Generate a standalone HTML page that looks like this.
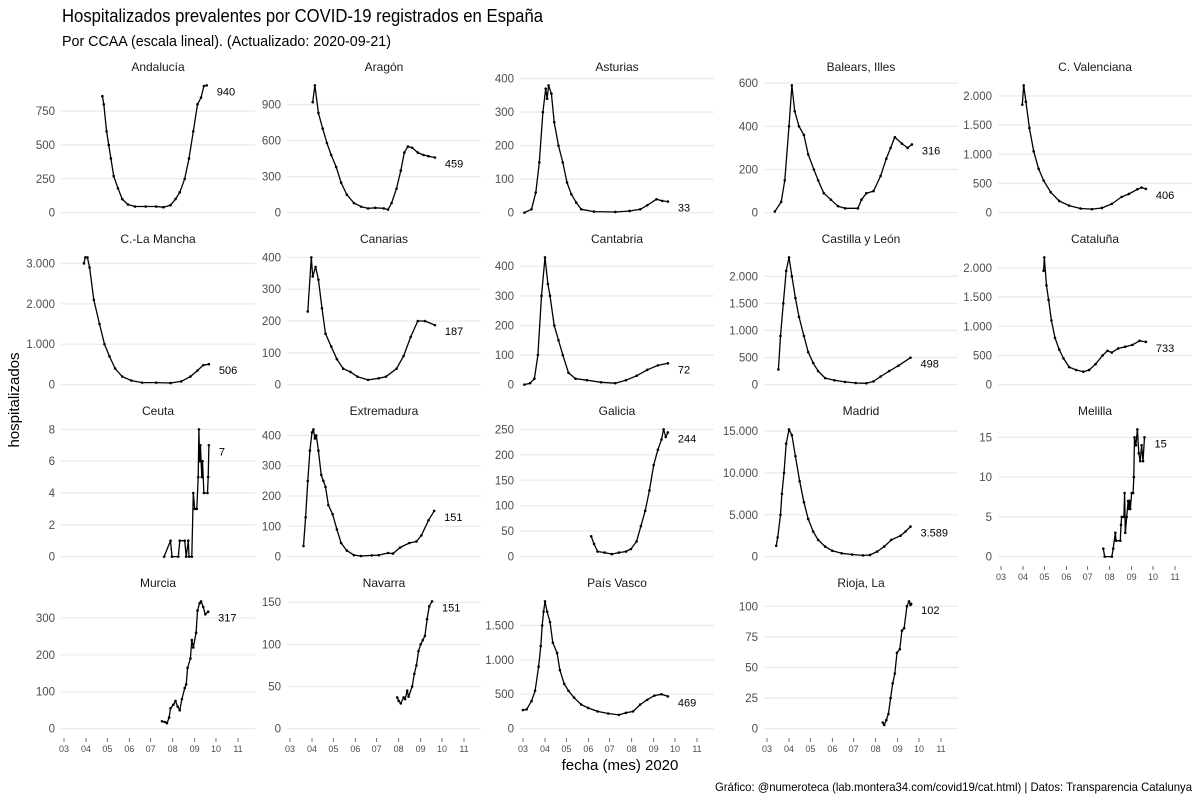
<!DOCTYPE html>
<html><head><meta charset="utf-8">
<style>
html,body{margin:0;padding:0;background:#fff;}
svg{display:block;font-family:"Liberation Sans Narrow","Liberation Sans",sans-serif;}
</style></head>
<body>
<svg id="chart" width="1200" height="800" viewBox="0 0 1200 800">
<text x="62" y="22" font-size="18" fill="#000" textLength="481" lengthAdjust="spacingAndGlyphs">Hospitalizados prevalentes por COVID-19 registrados en España</text>
<text x="62" y="46" font-size="15" fill="#000" textLength="329" lengthAdjust="spacingAndGlyphs">Por CCAA (escala lineal). (Actualizado: 2020-09-21)</text>
<text transform="translate(19,400) rotate(-90)" text-anchor="middle" font-size="15" fill="#000">hospitalizados</text>
<text x="620" y="770" text-anchor="middle" font-size="15" fill="#000">fecha (mes) 2020</text>
<text x="1192" y="791" text-anchor="end" font-size="12" fill="#000" textLength="477" lengthAdjust="spacingAndGlyphs">Gráfico: @numeroteca (lab.montera34.com/covid19/cat.html) | Datos: Transparencia Catalunya</text>
<g id="panels"></g>
</svg>
<script>
// days since 2020-03-01
const regions = ["Andalucía","Aragón","Asturias","Balears, Illes","C. Valenciana","C.-La Mancha","Canarias","Cantabria","Castilla y León","Cataluña","Ceuta","Extremadura","Galicia","Madrid","Melilla","Murcia","Navarra","País Vasco","Rioja, La"];
const dAndalucia=[54,56,60,63,66,70,76,82,90,100,115,130,140,150,157,163,170,176,182,188,193,197,201];
const vAndalucia=[860,800,600,500,400,270,180,100,60,45,45,45,40,55,100,150,250,400,600,800,850,935,940];
const dAragon=[32,35,40,46,52,58,65,72,80,90,100,110,120,132,138,143,150,156,161,166,172,180,188,195,204];
const vAragon=[920,1060,830,700,580,480,380,250,150,80,50,35,40,35,25,80,200,350,500,550,540,500,480,470,459];
const dAsturias=[2,12,18,23,28,32,34,36,40,44,50,56,62,68,75,82,100,130,150,165,175,188,196,204];
const vAsturias=[0,10,60,150,300,370,340,380,355,270,200,150,90,55,30,10,3,2,5,10,22,40,35,33];
const dBalears=[11,20,25,31,35,39,45,52,58,66,72,80,90,100,110,128,133,140,150,160,168,174,180,190,198,204];
const vBalears=[5,50,150,400,590,470,400,360,270,200,150,90,60,30,20,20,60,90,100,170,250,300,350,320,300,316];
const dValenciana=[30,32,35,40,46,53,60,70,82,96,112,128,142,156,170,180,192,198,204];
const vValenciana=[1850,2180,1900,1450,1050,750,550,350,200,120,70,60,80,150,270,320,400,430,406];
const dMancha=[28,30,33,36,42,50,57,64,72,82,95,110,130,150,165,178,188,196,204];
const vMancha=[3000,3150,3150,2900,2100,1500,1000,700,400,200,100,50,50,40,80,200,350,480,506];
const dCanarias=[25,30,32,36,40,45,50,58,66,75,85,95,110,125,135,150,160,170,180,190,204];
const vCanarias=[230,400,340,370,330,240,160,120,80,50,40,25,15,20,25,50,90,150,200,200,187];
const dCantabria=[2,10,16,21,26,31,35,38,44,50,56,64,74,90,110,130,145,160,175,190,204];
const vCantabria=[0,5,20,100,300,430,340,300,200,150,100,40,20,15,8,5,15,30,50,65,72];
const dCyL=[16,19,23,27,31,35,40,45,52,58,65,72,82,95,110,125,140,150,160,172,185,202];
const vCyL=[280,900,1500,2100,2350,2000,1600,1250,900,600,400,250,120,80,50,30,25,60,150,250,350,498];
const dCataluna=[60,61,64,67,71,76,82,88,96,106,116,124,133,143,150,156,165,175,185,195,204];
const vCataluna=[1950,2180,1700,1450,1100,800,600,450,300,250,220,250,350,500,580,550,620,650,680,750,733];
const dCeuta=[141,150,152,161,163,170,172,175,176,180,182,184,187,189,190,191,192,194,195,197,202,203,204];
const vCeuta=[0,1,0,0,1,1,0,1,0,0,4,3,3,5,8,6,7,5,6,4,4,5,7];
const dExtremadura=[19,22,25,28,31,33,35,37,40,44,47,50,54,60,66,72,80,90,100,115,125,138,145,155,168,178,185,195,203];
const vExtremadura=[35,130,250,350,410,420,390,400,350,270,250,230,170,140,90,45,20,5,2,4,5,12,10,30,45,50,70,120,151];
const dGalicia=[96,100,105,115,125,135,145,152,160,166,172,178,184,190,195,198,201,204];
const vGalicia=[40,25,10,8,5,8,10,15,30,60,90,130,180,210,230,250,235,244];
const dMadrid=[13,15,19,21,24,27,31,35,40,46,52,58,65,72,82,92,105,120,135,145,155,165,175,188,195,202];
const vMadrid=[1300,2300,5000,7500,10000,13500,15200,14500,12000,9000,6500,4500,3000,2000,1200,700,400,250,150,200,600,1200,2000,2500,3000,3589];
const dMelilla=[144,146,156,158,161,162,168,169,170,173,174,175,177,179,180,181,182,184,186,187,188,190,192,194,196,198,200,202];
const vMelilla=[1,0,0,1,3,2,2,4,5,5,8,3,5,7,6,7,6,8,8,10,15,14,16,13,12,14,12,15];
const dMurcia=[138,142,145,148,150,154,157,160,163,166,170,172,174,178,180,182,186,188,191,193,196,199,203];
const vMurcia=[20,18,15,30,55,65,75,60,50,80,110,120,165,190,240,220,260,320,340,345,330,310,317];
const dNavarra=[151,153,156,160,162,165,167,172,175,178,181,184,187,190,193,196,200];
const vNavarra=[37,33,30,37,35,45,38,50,65,75,92,100,105,110,130,145,151];
const dVasco=[0,5,12,17,22,25,27,29,31,34,38,42,48,52,58,64,72,82,92,105,120,135,145,155,165,175,185,195,204];
const vVasco=[270,280,400,550,900,1200,1500,1700,1850,1700,1550,1250,1100,850,650,550,450,350,300,250,220,200,230,250,350,420,480,500,469];
const dRioja=[163,165,168,171,174,177,180,183,187,190,193,197,200,202,203];
const vRioja=[5,3,7,12,25,37,45,62,65,80,82,100,104,101,102];
const ticksAndalucia=[0,250,500,750], ticksAragon=[0,300,600,900], ticks100x4=[0,100,200,300,400],
 ticksBalears=[0,200,400,600], ticks2000=[0,500,1000,1500,2000], ticksMancha=[0,1000,2000,3000],
 ticksCeuta=[0,2,4,6,8], ticksGalicia=[0,50,100,150,200,250], ticksMadrid=[0,5000,10000,15000],
 ticksMelilla=[0,5,10,15], ticksMurcia=[0,100,200,300], ticksNavarra=[0,50,100,150],
 ticksVasco=[0,500,1000,1500], ticksRioja=[0,25,50,75,100];
const monthLabels=["03","04","05","06","07","08","09","10","11"];
const monthDays=[0,31,61,92,122,153,184,214,245];

const series=[
 [dAndalucia,vAndalucia,ticksAndalucia],[dAragon,vAragon,ticksAragon],[dAsturias,vAsturias,ticks100x4],
 [dBalears,vBalears,ticksBalears],[dValenciana,vValenciana,ticks2000],[dMancha,vMancha,ticksMancha],
 [dCanarias,vCanarias,ticks100x4],[dCantabria,vCantabria,ticks100x4],[dCyL,vCyL,ticks2000],
 [dCataluna,vCataluna,ticks2000],[dCeuta,vCeuta,ticksCeuta],[dExtremadura,vExtremadura,ticks100x4],
 [dGalicia,vGalicia,ticksGalicia],[dMadrid,vMadrid,ticksMadrid],[dMelilla,vMelilla,ticksMelilla],
 [dMurcia,vMurcia,ticksMurcia],[dNavarra,vNavarra,ticksNavarra],[dVasco,vVasco,ticksVasco],[dRioja,vRioja,ticksRioja]];

const NS="http://www.w3.org/2000/svg";
const colX03=[64,290,523,767,1001];
const root=document.getElementById("panels");
function fmt(v){return String(v).replace(/\B(?=(\d{3})+(?!\d))/g,".");}
function mk(tag,attrs,parent){const e=document.createElementNS(NS,tag);for(const k in attrs)e.setAttribute(k,attrs[k]);parent.appendChild(e);return e;}

series.forEach((s,i)=>{
  const [days,vals,ticks]=s;
  const r=Math.floor(i/5), c=i%5;
  const x03=colX03[c], left=x03-3, width=194, top=79+172*r, h=140;
  const xs=d=>x03+d*174/245;
  const maxV=Math.max(...vals);
  const lo=-0.05*maxV, hi=1.05*maxV;
  const ys=v=>top+h-(v-lo)/(hi-lo)*h;
  const g=mk("g",{},root);
  
  
  const st=mk("text",{x:left+width/2,y:top-8,"text-anchor":"middle","font-size":12,fill:"#1a1a1a"},g);
  st.textContent=regions[i];
  
  
  ticks.forEach(t=>{
    const y=ys(t);
    const gl=mk("line",{x1:left,x2:left+width,y1:y,y2:y,stroke:"#ebebeb","stroke-width":1.3},g);
    
    
    const tl=mk("text",{x:left-6,y:y+4,"text-anchor":"end","font-size":11.5,fill:"#4d4d4d"},g);
    tl.textContent=fmt(t);
    
    
  });
  if(r===3||i===14){
    monthDays.forEach((d,k)=>{
      const x=xs(d);
      const tm=mk("line",{x1:x,x2:x,y1:top+h+3,y2:top+h+7,stroke:"#4d4d4d","stroke-width":0.8},g);
      
      
      const tx=mk("text",{x:x,y:top+h+17,"text-anchor":"middle","font-size":9,fill:"#4d4d4d"},g);
      tx.textContent=monthLabels[k];
      
      
    });
  }
  const pts=days.map((d,k)=>xs(d).toFixed(1)+","+ys(vals[k]).toFixed(1)).join(" ");
  const pl=mk("polyline",{points:pts,fill:"none",stroke:"#000","stroke-width":1.3,"stroke-linejoin":"round"},g);
  
  
  days.forEach((d,k)=>{
    const dot=mk("circle",{cx:xs(d),cy:ys(vals[k]),r:1.3,fill:"#000"},g);
    
    
  });
  const ld=days[days.length-1], lv=vals[vals.length-1];
  let ly=ys(lv)+6; if(ly>top+h-8) ly=top+h-8; if(ly<top+8) ly=top+8;
  const lab=mk("text",{x:xs(ld)+10,y:ly+4,"font-size":11,fill:"#000"},g);
  lab.textContent=fmt(lv);
  
  
});
</script>
</body></html>
